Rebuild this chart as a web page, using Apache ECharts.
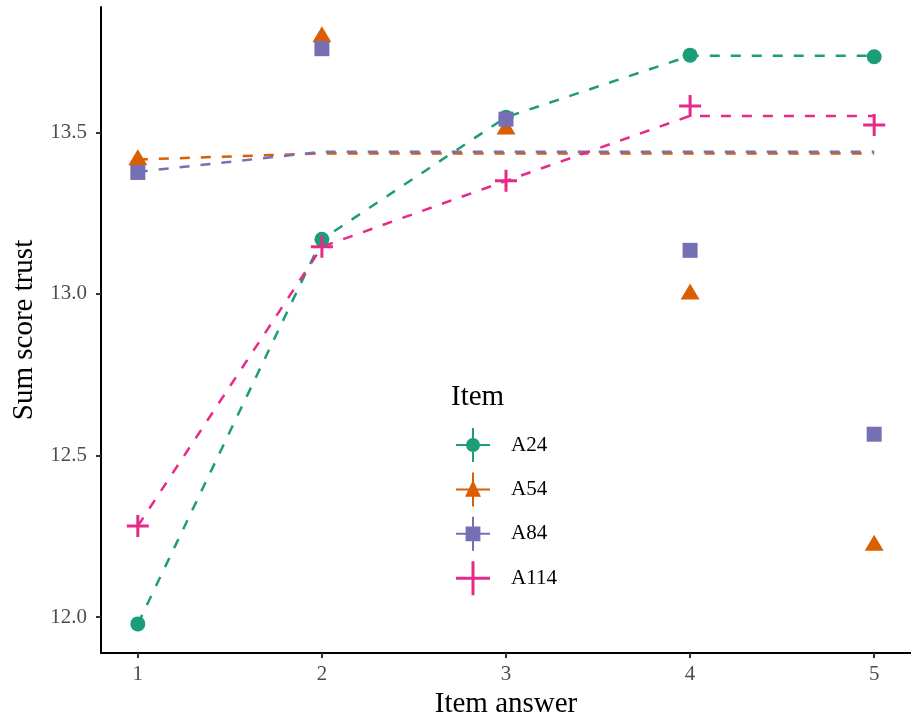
<!DOCTYPE html>
<html>
<head>
<meta charset="utf-8">
<script src="https://cdn.jsdelivr.net/npm/echarts@6/dist/echarts.min.js"></script>
<style>
  html, body { margin: 0; padding: 0; background: #ffffff; }
  #chart { width: 911px; height: 719px; }
</style>
</head>
<body>
<div id="chart"></div>
<script>
// ---- data ----
const itemNames = ['A24', 'A54', 'A84', 'A114'];
const itemAnswer = [1, 2, 3, 4, 5];
const xTicks = [1, 2, 3, 4, 5];
const yTicks = [12.0, 12.5, 13.0, 13.5];

// observed means (points)
const a24Points  = [11.979, 13.169, 13.547, 13.739, 13.734];
const a54Points  = [13.415, 13.795, 13.510, 12.999, 12.222];
const a84Points  = [13.376, 13.759, 13.541, 13.135, 12.566];
const a114Points = [12.282, 13.146, 13.350, 13.582, 13.523];

// fitted values (dashed lines)
const a24Fit  = [11.979, 13.169, 13.547, 13.737, 13.737];
const a54Fit  = [13.416, 13.435, 13.435, 13.435, 13.435];
const a84Fit  = [13.378, 13.440, 13.440, 13.440, 13.440];
const a114Fit = [12.282, 13.146, 13.350, 13.551, 13.551];

// ---- styling ----
const colors = ['#1B9E77', '#D95F02', '#7570B3', '#E7298A'];
const FONT = "'Liberation Serif', 'DejaVu Serif', serif";

const plusPath = 'path://M9.5,0 L12.5,0 L12.5,22 L9.5,22 Z M0,9.5 L22,9.5 L22,12.5 L0,12.5 Z';
const symbols = ['circle', 'triangle', 'rect', plusPath];
const symbolSizes = [15, [19, 16], 15, 22];
const symbolOffsets = [[0, 0], [0, -2.7], [0, 0], [0, 0]];

const crossH = 'M0,16 L34,16 L34,18 L0,18 Z ';
const crossV = 'M16,0 L18,0 L18,34 L16,34 Z ';
const legendIcons = [
  'path://' + crossH + crossV + 'M24,17 A7,7 0 1,1 10,17 A7,7 0 1,1 24,17 Z',
  'path://' + crossH + crossV + 'M17,7.7 L25,24.3 L9,24.3 Z',
  'path://' + crossH + crossV + 'M9.6,9.6 L24.4,9.6 L24.4,24.4 L9.6,24.4 Z',
  'path://M15.5,0 L18.5,0 L18.5,34 L15.5,34 Z M0,15.5 L34,15.5 L34,18.5 L0,18.5 Z'
];

const pointSets = [a24Points, a54Points, a84Points, a114Points];
const fitSets = [a24Fit, a54Fit, a84Fit, a114Fit];

const series = [];
// points first so legend takes their style
itemNames.forEach((name, i) => {
  series.push({
    name: name,
    type: 'scatter',
    z: 3,
    symbol: symbols[i],
    symbolSize: symbolSizes[i],
    symbolOffset: symbolOffsets[i],
    itemStyle: { color: colors[i], opacity: 1, borderWidth: 0 },
    emphasis: { disabled: true },
    data: itemAnswer.map((x, k) => [x, pointSets[i][k]])
  });
});
itemNames.forEach((name, i) => {
  series.push({
    name: name,
    type: 'line',
    z: 2,
    showSymbol: false,
    symbol: 'none',
    itemStyle: { color: colors[i] },
    lineStyle: { color: colors[i], width: 2.5, type: [10, 11], cap: 'butt' },
    emphasis: { disabled: true },
    data: itemAnswer.map((x, k) => [x, fitSets[i][k]])
  });
});

const chart = echarts.init(document.getElementById('chart'), null, { renderer: 'canvas' });
chart.setOption({
  animation: false,
  backgroundColor: '#ffffff',
  textStyle: { fontFamily: FONT },
  title: {
    text: 'Item',
    left: 451,
    top: 383,
    padding: 0,
    textStyle: { fontFamily: FONT, fontSize: 29, fontWeight: 'normal', color: '#000000' }
  },
  legend: {
    orient: 'vertical',
    left: 456,
    top: 428,
    padding: 0,
    itemWidth: 34,
    itemHeight: 34,
    itemGap: 10.4,
    selectedMode: false,
    itemStyle: { borderWidth: 0 },
    textStyle: { fontFamily: FONT, fontSize: 21, color: '#000000', padding: [0, 0, 0, 16] },
    data: itemNames.map((n, i) => ({ name: n, icon: legendIcons[i] }))
  },
  grid: { left: 101, right: 0, top: 7, bottom: 66, containLabel: false, outerBoundsMode: 'none' },
  xAxis: {
    type: 'value',
    min: 0.8,
    max: 5.2,
    name: 'Item answer',
    nameLocation: 'middle',
    nameGap: 36,
    nameTextStyle: { fontFamily: FONT, fontSize: 29, color: '#000000' },
    axisLine: { show: true, onZero: false, lineStyle: { color: '#000000', width: 2 } },
    axisTick: { show: true, customValues: xTicks, length: 5, lineStyle: { color: '#333333', width: 2 } },
    axisLabel: {
      customValues: xTicks,
      margin: 11,
      fontFamily: FONT, fontSize: 21, color: '#4D4D4D',
      formatter: v => String(v)
    },
    splitLine: { show: false }
  },
  yAxis: {
    type: 'value',
    min: 11.889,
    max: 13.888,
    name: 'Sum score trust',
    nameLocation: 'middle',
    nameGap: 58,
    nameTextStyle: { fontFamily: FONT, fontSize: 29, color: '#000000' },
    axisLine: { show: true, onZero: false, lineStyle: { color: '#000000', width: 2 } },
    axisTick: { show: true, customValues: yTicks, length: 5, lineStyle: { color: '#333333', width: 2 } },
    axisLabel: {
      customValues: yTicks,
      margin: 14,
      fontFamily: FONT, fontSize: 21, color: '#4D4D4D',
      formatter: v => Number(v).toFixed(1)
    },
    splitLine: { show: false }
  },
  series: series
});
</script>
</body>
</html>
